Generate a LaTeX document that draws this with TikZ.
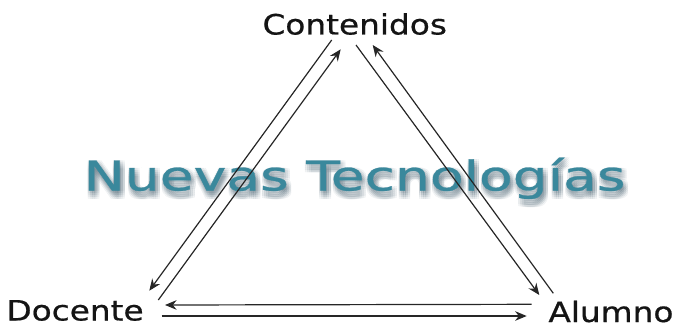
\documentclass[tikz,border=0pt]{standalone}
\usepackage{fontspec}
\newfontfamily\dejavu[FakeBold=0.6]{DejaVu Sans}
\usetikzlibrary{arrows.meta}
\definecolor{teal1}{RGB}{58,136,156}
\definecolor{shadow1}{RGB}{70,95,110}
\begin{document}
\begin{tikzpicture}[x=0.5pt, y=-0.5pt,
    lbl/.style={inner sep=0pt, anchor=base west, xscale=1.17, font=\dejavu\fontsize{14}{16}\selectfont, text=black!92},
    big/.style={inner sep=0pt, anchor=base west, xscale=1.345, font=\dejavu\fontsize{20.5}{24}\selectfont},
    arr/.style={-{Stealth[length=5.8pt, width=4.8pt]}, line width=0.6pt, draw=black!85}]
      \useasboundingbox (0,0) rectangle (674,326);
      % texto de fondo con sombra
      \foreach \dx in {-1,1,3,5} {
        \foreach \dy in {0,2,4,6,8} {
          \node[big, text=shadow1, opacity=0.06] (sh\dx\dy) at (83+\dx,190.5+\dy) {Nuevas Tecnologías};
        }
      }
      \node[big, text=teal1] (NT) at (83,190.5) {Nuevas Tecnologías};
      \node[lbl] (C) at (262,34.5) {Contenidos};
      \node[lbl] (D) at (6,320.5) {Docente};
      \node[lbl] (A) at (548,322) {Alumno};
      \draw[arr] ([shift={(69.7,5.5)}]C.base west) -- ([shift={(143.3,-29.8)}]D.base west);
      \draw[arr] ([shift={(152.3,-20.5)}]D.base west) -- ([shift={(78.7,14.8)}]C.base west);
      \draw[arr] ([shift={(94,10.5)}]C.base west) -- ([shift={(-8.7,-27)}]A.base west);
      \draw[arr] ([shift={(5.3,-28.7)}]A.base west) -- ([shift={(110.7,10.5)}]C.base west);
      \draw[arr] ([shift={(-16.3,-17.7)}]A.base west) -- ([shift={(159,-15.5)}]D.base west);
      \draw[arr] ([shift={(155.7,-4.5)}]D.base west) -- ([shift={(-21.3,-6)}]A.base west);
    \end{tikzpicture}
\end{document}
